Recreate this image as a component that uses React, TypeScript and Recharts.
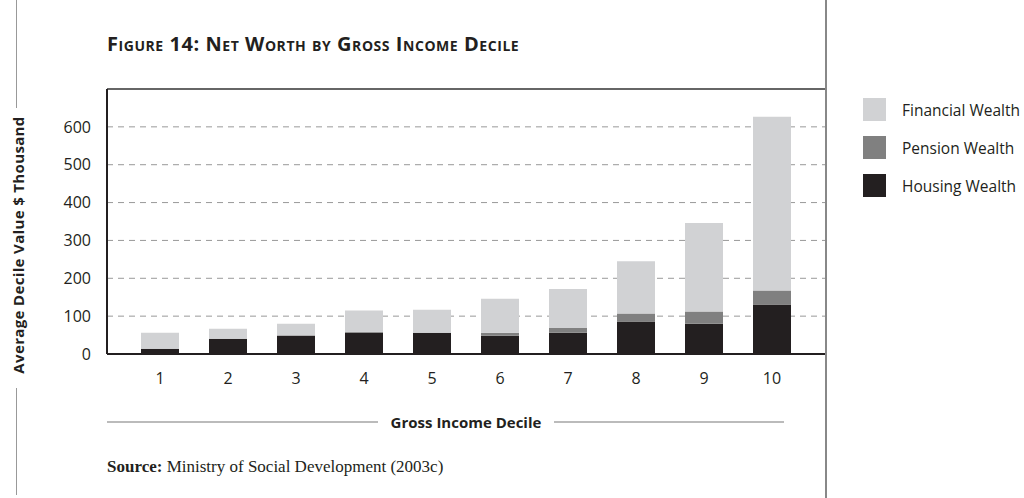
import { BarChart, Bar, XAxis, YAxis, CartesianGrid, ReferenceLine } from "recharts";

const deciles = ["1", "2", "3", "4", "5", "6", "7", "8", "9", "10"];
const housingWealth = [14, 40, 49, 56, 56, 48, 56, 86, 80, 131];
const pensionWealth = [0, 0, 0, 3, 0, 8, 13, 21, 32, 37];
const financialWealth = [42, 27, 31, 56, 61, 90, 103, 138, 234, 459];
const yTicks = [0, 100, 200, 300, 400, 500, 600];

const legendItems = [
  { name: "Financial Wealth", color: "#d1d2d4" },
  { name: "Pension Wealth", color: "#808080" },
  { name: "Housing Wealth", color: "#231f20" },
];

const sans = "'Open Sans', 'Noto Sans', sans-serif";

export default function App() {
  const data = deciles.map((d, i) => ({
    decile: d,
    housing: housingWealth[i],
    pension: pensionWealth[i],
    financial: financialWealth[i],
  }));

  return (
    <div style={{ position: "absolute", left: 0, top: 0, width: 1024, height: 498, background: "#fff", fontFamily: sans }}>
      {/* title */}
      <div
        style={{
          position: "absolute",
          left: 107,
          top: 30,
          fontSize: 20,
          letterSpacing: 0.55,
          fontWeight: 700,
          fontVariant: "small-caps",
          color: "#231f20",
          whiteSpace: "nowrap",
        }}
      >
        Figure 14: Net Worth by Gross Income Decile
      </div>

      <BarChart
        width={1024}
        height={498}
        data={data}
        margin={{ top: 89, right: 199, bottom: 114, left: 47 }}
        style={{ position: "absolute", left: 0, top: 0 }}
      >
        <CartesianGrid vertical={false} stroke="#999" strokeDasharray="6 5" />
        <XAxis
          dataKey="decile"
          height={30}
          padding={{ left: 19, right: 19 }}
          tickLine={false}
          tickSize={0}
          tickMargin={19}
          axisLine={{ stroke: "#231f20", strokeWidth: 2 }}
          tick={{ fill: "#231f20", fontSize: 16, fontFamily: sans }}
        />
        <YAxis
          width={60}
          domain={[0, 700]}
          ticks={yTicks}
          tickLine={false}
          tickSize={0}
          tickMargin={16}
          axisLine={{ stroke: "#231f20", strokeWidth: 2 }}
          tick={{ fill: "#231f20", fontSize: 16, fontFamily: sans }}
        />
        <ReferenceLine y={700} stroke="#666" strokeWidth={2} />
        <Bar dataKey="housing" stackId="w" fill="#231f20" barSize={38} isAnimationActive={false} />
        <Bar dataKey="pension" stackId="w" fill="#808080" barSize={38} isAnimationActive={false} />
        <Bar dataKey="financial" stackId="w" fill="#d1d2d4" barSize={38} isAnimationActive={false} />
      </BarChart>

      {/* right frame line */}
      <div style={{ position: "absolute", left: 825, top: 0, width: 1.5, height: 498, background: "#888" }} />

      {/* y-axis label with rules */}
      <div style={{ position: "absolute", left: 16, top: 0, width: 1, height: 108, background: "#999" }} />
      <div style={{ position: "absolute", left: 16, top: 388, width: 1, height: 107, background: "#999" }} />
      <div
        style={{
          position: "absolute",
          left: 18,
          top: 245,
          transform: "translate(-50%, -50%) rotate(-90deg)",
          fontSize: 15,
          letterSpacing: 0.35,
          fontWeight: 700,
          color: "#231f20",
          whiteSpace: "nowrap",
        }}
      >
        Average Decile Value $ Thousand
      </div>

      {/* x-axis label with rules */}
      <div style={{ position: "absolute", left: 107, top: 421, width: 271, height: 2, background: "#bbb" }} />
      <div style={{ position: "absolute", left: 554, top: 421, width: 230, height: 2, background: "#bbb" }} />
      <div
        style={{
          position: "absolute",
          left: 466,
          top: 422,
          transform: "translate(-50%, -50%)",
          fontSize: 15,
          fontWeight: 700,
          color: "#231f20",
          whiteSpace: "nowrap",
        }}
      >
        Gross Income Decile
      </div>

      {/* source */}
      <div
        style={{
          position: "absolute",
          left: 107,
          top: 457,
          fontSize: 17,
          fontFamily: "'Liberation Serif', serif",
          color: "#231f20",
          whiteSpace: "nowrap",
        }}
      >
        <b>Source:</b> Ministry of Social Development (2003c)
      </div>

      {/* legend */}
      {legendItems.map((item, i) => (
        <div key={item.name} style={{ position: "absolute", left: 863, top: 98 + i * 38, height: 23, display: "flex", alignItems: "center" }}>
          <div style={{ width: 23, height: 23, background: item.color }} />
          <span style={{ marginLeft: 16, fontSize: 15.5, color: "#231f20", whiteSpace: "nowrap" }}>{item.name}</span>
        </div>
      ))}
    </div>
  );
}
